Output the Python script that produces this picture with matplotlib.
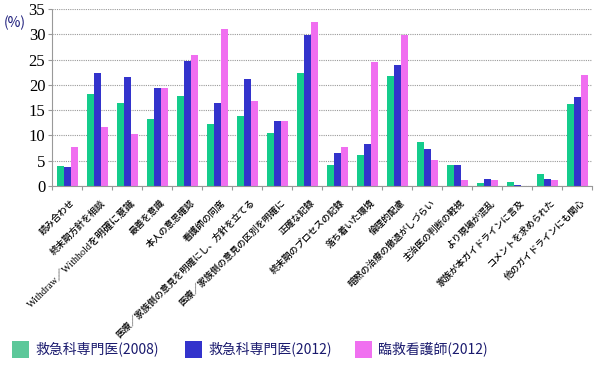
import matplotlib
matplotlib.use('Agg')
import matplotlib.pyplot as plt
import numpy as np
from matplotlib.patches import Rectangle

plt.rcParams['font.family'] = ['Noto Sans CJK JP', 'DejaVu Sans']

categories = ['読み合わせ', '終末期方針を相談', 'Withdraw／Withholdを明確に意識', '最善を意識',
              '本人の意思確認', '看護師の同席', '医療／家族側の意見を明確にし、方針を立てる',
              '医療／家族側の意見の区別を明確に', '正確な記録', '終末期のプロセスの記録',
              '落ち着いた環境', '倫理的配慮', '暗黙の治療の撤退がしづらい', '主治医の判断の軽視',
              'より現場が混乱', '家族が本ガイドラインに言及', 'コメントを求められた',
              '他のガイドラインにも関心']
em2008 = [4.0, 18.2, 16.4, 13.2, 17.8, 12.2, 13.8, 10.5, 22.4, 4.2, 6.2, 21.7, 8.7, 4.2, 0.6, 0.8, 2.4, 16.2]
em2012 = [3.8, 22.3, 21.6, 19.4, 24.8, 16.5, 21.2, 12.8, 29.9, 6.6, 8.4, 23.9, 7.4, 4.2, 1.4, 0.2, 1.4, 17.6]
ns2012 = [7.8, 11.7, 10.3, 19.4, 25.9, 31.0, 16.8, 12.9, 32.4, 7.8, 24.6, 29.9, 5.1, 1.2, 1.2, 0.0, 1.2, 22.0]
series_names = ['救急科専門医(2008)', '救急科専門医(2012)', '臨救看護師(2012)']

colors = ['#14cc8c', '#3333cc', '#f06ef0']
legend_colors = ['#5cc89a', '#3333cc', '#f070f0']

W, H = 600, 366
fig = plt.figure(figsize=(6, 3.66), dpi=100)
ax = fig.add_axes([0.087, 0.492, 0.9, 0.483])

x = np.arange(len(categories))
w = 0.23
for i, vals in enumerate([em2008, em2012, ns2012]):
    ax.bar(x + (i - 1) * w, vals, width=w, color=colors[i], linewidth=0)

ax.set_xlim(-0.5, len(categories) - 0.5)
ax.set_ylim(0, 35)
ax.set_yticks(range(0, 36, 5))
ax.set_yticklabels([str(v) for v in range(0, 36, 5)], family='Liberation Serif', fontsize=12)
ax.yaxis.grid(True, color='#999999', linestyle=(0, (1, 1)), linewidth=0.8)
ax.set_axisbelow(True)

for s in ['top', 'right']:
    ax.spines[s].set_visible(False)
ax.spines['left'].set_color('#999999')
ax.spines['left'].set_linestyle((0, (1, 1)))
ax.spines['bottom'].set_color('#999999')

ax.set_xticks(np.arange(len(categories) + 1) - 0.5)
ax.set_xticklabels([])
ax.tick_params(axis='x', length=3, color='#999999')
ax.tick_params(axis='y', length=3, color='#999999', pad=2)

for xi, lab in zip(x, categories):
    size = 7.2 if lab.startswith('Withdraw') else 6.6
    ax.text(xi + 0.1, -2.4, lab, rotation=45, ha='right', va='top', rotation_mode='anchor',
            fontsize=size, fontweight='medium', color='black',
            family=['Liberation Serif', 'Noto Sans CJK JP'])

fig.text(0.006, 1 - 23 / H, '(%)', fontsize=10, color='#1a1a7a', va='center')

# legend drawn by hand at the bottom
leg_x = [12, 185, 355]
for lx, c, name in zip(leg_x, legend_colors, series_names):
    fig.patches.append(Rectangle((lx / W, 1 - 358 / H), 17 / W, 17 / H, transform=fig.transFigure,
                                 facecolor=c, edgecolor='none'))
    fig.text((lx + 23) / W, 1 - 349 / H, name, fontsize=10, color='#1a1a6e', va='center')

fig.savefig('out.png', dpi=100)
